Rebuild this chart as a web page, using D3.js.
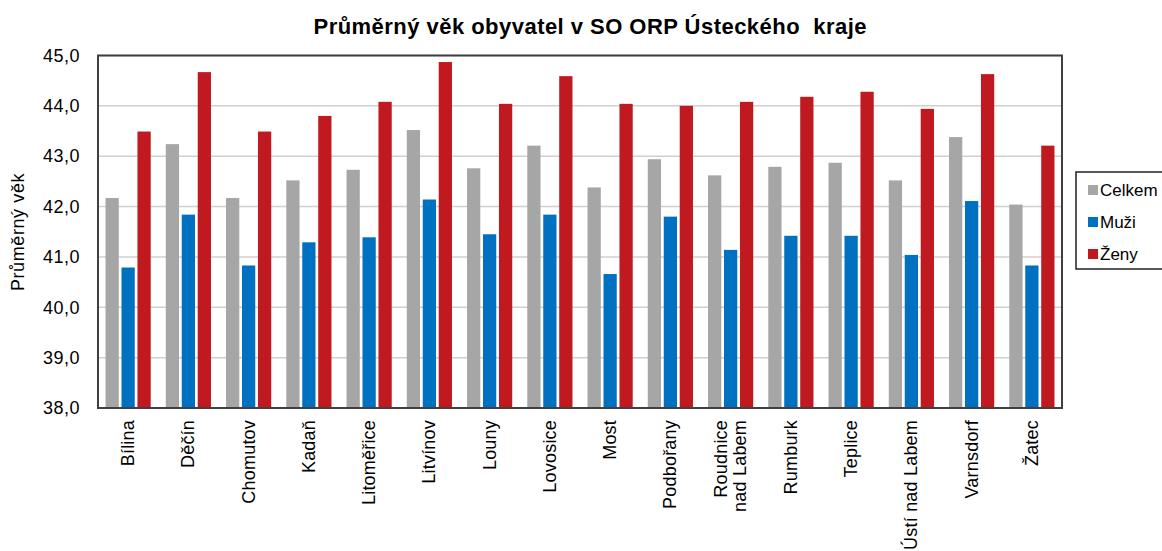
<!DOCTYPE html>
<html>
<head>
<meta charset="utf-8">
<script src="https://cdn.jsdelivr.net/npm/d3@7"></script>
<style>
  body { margin: 0; background: #fff; }
  text { font-family: "Liberation Sans", Arial, sans-serif; fill: #000; }
</style>
</head>
<body>
<div id="chart"></div>
<script>
var categories = ["Bílina", "Děčín", "Chomutov", "Kadaň", "Litoměřice", "Litvínov", "Louny", "Lovosice", "Most",
    "Podbořany", "Roudnice nad Labem", "Rumburk", "Teplice", "Ústí nad Labem", "Varnsdorf", "Žatec"];
var series = ["Celkem", "Muži", "Ženy"];
var celkem = [42.17, 43.24, 42.17, 42.52, 42.73, 43.52, 42.76, 43.21, 42.38, 42.94, 42.62, 42.79, 42.87, 42.52, 43.38, 42.04];
var muzi = [40.79, 41.84, 40.83, 41.29, 41.39, 42.14, 41.45, 41.84, 40.66, 41.8, 41.14, 41.42, 41.42, 41.04, 42.11, 40.83];
var zeny = [43.49, 44.67, 43.49, 43.8, 44.08, 44.87, 44.04, 44.59, 44.04, 44.0, 44.08, 44.18, 44.28, 43.94, 44.63, 43.21];
var yTicks = [38, 39, 40, 41, 42, 43, 44, 45];
// labels that break onto two lines
var labelLines = { "Roudnice nad Labem": ["Roudnice", "nad Labem"] };

var colors = ["#a6a6a6", "#0070c0", "#c0191f"];
var values = [celkem, muzi, zeny];

var width = 1162, height = 551;
var margin = { top: 55.5, right: 100, bottom: 143, left: 98 };

var svg = d3.select("#chart").append("svg")
    .attr("width", width)
    .attr("height", height);

var x0 = d3.scaleBand()
    .domain(categories)
    .range([margin.left, 1062])
    .paddingInner(0.25)
    .paddingOuter(0.125);

var x1 = d3.scaleBand()
    .domain(series)
    .range([0, x0.bandwidth()])
    .paddingInner(0.17);

var y = d3.scaleLinear()
    .domain([38, 45])
    .range([408, margin.top]);

var color = d3.scaleOrdinal(series, colors);

// grid
svg.append("g")
    .selectAll("line")
    .data(yTicks.slice(1))
    .join("line")
    .attr("x1", margin.left)
    .attr("x2", 1062)
    .attr("y1", d => y(d))
    .attr("y2", d => y(d))
    .attr("stroke", "#d0d0d0")
    .attr("stroke-width", 1.5);

// bars
var rows = categories.map((c, i) => ({ name: c, vals: series.map((s, j) => ({ key: s, value: values[j][i] })) }));

svg.append("g")
    .selectAll("g")
    .data(rows)
    .join("g")
    .attr("transform", d => `translate(${x0(d.name)},0)`)
    .selectAll("rect")
    .data(d => d.vals)
    .join("rect")
    .attr("x", d => x1(d.key))
    .attr("width", x1.bandwidth())
    .attr("y", d => y(d.value))
    .attr("height", d => y(38) - y(d.value))
    .attr("fill", d => color(d.key));

// frame
svg.append("rect")
    .attr("x", margin.left)
    .attr("y", y(45))
    .attr("width", 1062 - margin.left)
    .attr("height", y(38) - y(45))
    .attr("fill", "none")
    .attr("stroke", "#404040")
    .attr("stroke-width", 2);

// y axis
var yAxis = svg.append("g")
    .attr("transform", `translate(${margin.left},0)`)
    .call(d3.axisLeft(y).tickValues(yTicks).tickSize(0).tickPadding(18)
        .tickFormat(d => d3.format(".1f")(d).replace(".", ",")));
yAxis.select(".domain").remove();
yAxis.selectAll("text")
    .style("font-size", "18px")
    .style("letter-spacing", "0.5px")
    .attr("fill", "#000");

// x labels
var xl = svg.append("g")
    .selectAll("text")
    .data(categories)
    .join("text")
    .attr("transform", d => {
        var n = (labelLines[d] || [d]).length;
        var cx = x0(d) + x0.bandwidth() / 2 - (n - 1) * 9.5;
        return `translate(${cx + 6},420) rotate(-90)`;
    })
    .attr("text-anchor", "end")
    .style("font-size", "18px")
    .style("letter-spacing", "0.2px");
xl.selectAll("tspan")
    .data(d => labelLines[d] || [d])
    .join("tspan")
    .attr("x", 0)
    .attr("dy", (d, i) => i ? "1.05em" : 0)
    .text(d => d);

// title
svg.append("text")
    .attr("x", 590)
    .attr("y", 34)
    .attr("text-anchor", "middle")
    .attr("textLength", 553)
    .attr("lengthAdjust", "spacing")
    .style("font-size", "22px")
    .style("font-weight", "bold")
    .style("white-space", "pre")
    .text("Průměrný věk obyvatel v SO ORP Ústeckého  kraje");

// y title
svg.append("text")
    .attr("transform", "translate(24,232) rotate(-90)")
    .attr("text-anchor", "middle")
    .style("font-size", "18px")
    .style("letter-spacing", "0.6px")
    .text("Průměrný věk");

// legend
var legend = svg.append("g").attr("transform", "translate(1076,172)");
legend.append("rect")
    .attr("width", 100)
    .attr("height", 97)
    .attr("fill", "#fff")
    .attr("stroke", "#202020")
    .attr("stroke-width", 1.5);
var li = legend.selectAll("g")
    .data(series)
    .join("g")
    .attr("transform", (d, i) => `translate(12,${18 + i * 32})`);
li.append("rect")
    .attr("x", 0)
    .attr("y", -5)
    .attr("width", 10)
    .attr("height", 10)
    .attr("fill", d => color(d));
li.append("text")
    .attr("x", 12)
    .attr("dy", "0.36em")
    .style("font-size", "17px")
    .text(d => d);
</script>
</body>
</html>
